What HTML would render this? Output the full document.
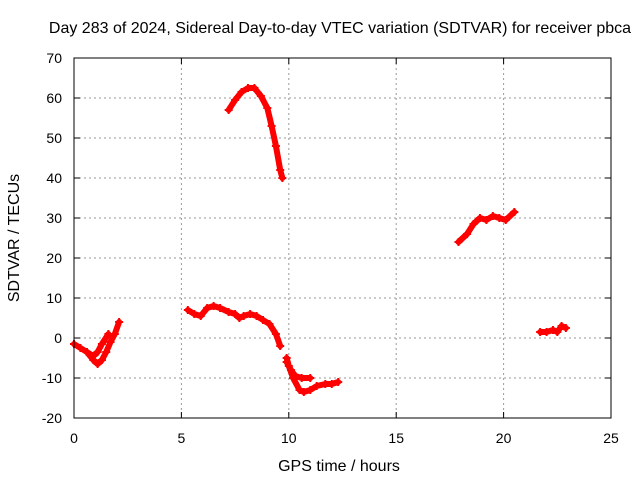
<!DOCTYPE html>
<html><head><meta charset="utf-8"><style>
body{margin:0;background:#fff;}
svg text{font-family:"Liberation Sans",sans-serif;font-size:14px;fill:#000;}
svg text.big{font-size:16px;}
</style></head><body>
<svg width="640" height="480" id="chart">
<rect width="640" height="480" fill="#fff"/>
<text class="big" x="340" y="33" text-anchor="middle">Day 283 of 2024, Sidereal Day-to-day VTEC variation (SDTVAR) for receiver pbca</text>
<text class="big" x="339" y="471" text-anchor="middle">GPS time / hours</text>
<text class="big" transform="translate(19,238) rotate(-90)" text-anchor="middle">SDTVAR / TECUs</text>
<g id="grid"></g><g id="series"></g>
<rect x="74" y="58" width="537" height="360" fill="none" stroke="#000" stroke-width="1"/>
</svg>
<script>
const xTicks=[0,5,10,15,20,25];
const yTicks=[-20,-10,0,10,20,30,40,50,60,70];
const seg1T=[0,0.3,0.6,0.9,1.1,1.3,1.5,1.7,1.9,2.1];
const seg1V=[-1.5,-2.5,-3.5,-5.5,-6.5,-5.5,-3.5,-1,1,4];
const seg1bT=[0.6,0.9,1.1,1.3,1.6];
const seg1bV=[-3.5,-4.5,-3.5,-1.5,1];
const seg2T=[5.3,5.6,5.9,6.2,6.5,6.8,7.2,7.5,7.7,7.9,8.2,8.5,8.8,9.1,9.4,9.6];
const seg2V=[7,6,5.5,7.5,8,7.5,6.5,6,5,5.5,6,5.5,4.5,3.5,1,-2];
const seg3T=[7.2,7.5,7.8,8.1,8.4,8.7,9.0,9.2,9.4,9.6,9.7];
const seg3V=[57,59.5,61.5,62.5,62.5,60.5,57.5,53,48,42,40];
const seg4T=[9.9,10,10.2,10.5,10.7,11,11.3,11.7,12,12.3];
const seg4V=[-5,-7,-10,-13,-13.5,-13,-12,-11.5,-11.5,-11];
const seg4bT=[9.9,10.1,10.3,10.6,11];
const seg4bV=[-6,-8,-9.5,-10,-10];
const seg5T=[17.9,18.3,18.6,18.9,19.2,19.5,19.8,20.1,20.5];
const seg5V=[24,26,28.5,30,29.5,30.5,30,29.5,31.5];
const seg6T=[21.7,22,22.3,22.5,22.7,22.9];
const seg6V=[1.5,1.5,2,1.5,3,2.5];
const NS="http://www.w3.org/2000/svg";
const X=t=>74+t*537/25, Y=v=>418-(v+20)*4;
const grid=document.getElementById('grid'), ser=document.getElementById('series');
function mk(tag,attrs,parent){const e=document.createElementNS(NS,tag);for(const k in attrs)e.setAttribute(k,attrs[k]);parent.appendChild(e);return e;}
xTicks.forEach(t=>{
  if(t>0&&t<25){const l=mk('line',{x1:X(t),x2:X(t),y1:58,y2:418,stroke:'#999','stroke-dasharray':'2,3'},grid);
  
  }
  mk('line',{x1:X(t),x2:X(t),y1:418,y2:412,stroke:'#000'},grid);
  mk('line',{x1:X(t),x2:X(t),y1:58,y2:64,stroke:'#000'},grid);
  const tx=mk('text',{x:X(t),y:443,'text-anchor':'middle'},grid);tx.textContent=t;
  
  
});
yTicks.forEach(v=>{
  if(v>-20&&v<70){const l=mk('line',{x1:74,x2:611,y1:Y(v),y2:Y(v),stroke:'#999','stroke-dasharray':'2,3'},grid);
  
  }
  mk('line',{x1:74,x2:80,y1:Y(v),y2:Y(v),stroke:'#000'},grid);
  mk('line',{x1:611,x2:605,y1:Y(v),y2:Y(v),stroke:'#000'},grid);
  const tx=mk('text',{x:62,y:Y(v)+5,'text-anchor':'end'},grid);tx.textContent=v;
  
  
});
[[seg1T,seg1V],[seg1bT,seg1bV],[seg2T,seg2V],[seg3T,seg3V],[seg4T,seg4V],[seg4bT,seg4bV],[seg5T,seg5V],[seg6T,seg6V]].forEach(([T,V],i)=>{
  const pts=T.map((t,j)=>X(t)+','+Y(V[j])).join(' ');
  const p=mk('polyline',{points:pts,fill:'none',stroke:'#f00','stroke-width':6,'stroke-linejoin':'round','stroke-linecap':'round'},ser);
  
  
  T.forEach((t,j)=>{
    const m=mk('path',{d:`M${X(t)-4},${Y(V[j])}h8M${X(t)},${Y(V[j])-4}v8`,stroke:'#f00','stroke-width':2},ser);
    
    
  });
});
</script>
</body></html>
